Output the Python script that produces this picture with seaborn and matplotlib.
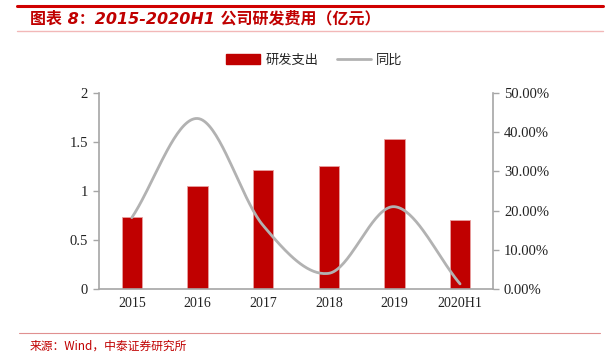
import numpy as np
import pandas as pd
import matplotlib
matplotlib.use("Agg")
import matplotlib.pyplot as plt
import seaborn as sns
from matplotlib.patches import Patch
from matplotlib.lines import Line2D
from matplotlib.ticker import FuncFormatter, FixedLocator

categories = ["2015", "2016", "2017", "2018", "2019", "2020H1"]
rd_spend = [0.73, 1.05, 1.21, 1.26, 1.53, 0.70]
yoy_pct = [18.2, 43.5, 16.2, 4.0, 21.0, 1.3]
left_ticks = [0, 0.5, 1, 1.5, 2]
left_tick_labels = ["0", "0.5", "1", "1.5", "2"]
right_ticks = [0, 10, 20, 30, 40, 50]

RED = "#C00000"
GRAY = "#B2B2B2"
SPINE = "#A6A6A6"

sns.set_style("white")
plt.rcParams["font.family"] = ["Liberation Serif", "Noto Sans CJK SC", "DejaVu Sans"]

fig = plt.figure(figsize=(6.1, 3.54), dpi=100)
ax = fig.add_axes([0.1623, 0.1836, 0.808 - 0.1623, 0.7373 - 0.1836])

df = pd.DataFrame({"cat": categories, "val": rd_spend})
sns.barplot(data=df, x="cat", y="val", color=RED, width=0.31, ax=ax,
            saturation=1, edgecolor="#E8A0A0", linewidth=0.6)
ax.set_xlim(-0.5, len(categories) - 0.5)
ax.set_ylim(0, 2)
ax.set_xlabel("")
ax.set_ylabel("")
ax.set_yticks(left_ticks)
ax.set_yticklabels(left_tick_labels)

# x ticks at category boundaries, labels centered
ax.set_xticks(np.arange(len(categories)))
ax.set_xticklabels(categories)
ax.xaxis.set_minor_locator(FixedLocator(np.arange(-0.5, len(categories), 1.0)))
ax.tick_params(axis="x", which="major", length=0, labelsize=10, colors="#222222", pad=6)
ax.tick_params(axis="x", which="minor", length=4, color=SPINE, width=1)
ax.tick_params(axis="y", length=4, color=SPINE, width=1, labelsize=10.5,
               labelcolor="#222222", left=True, pad=4)

for s in ["top", "right"]:
    ax.spines[s].set_visible(False)
for s in ["left", "bottom"]:
    ax.spines[s].set_color(SPINE)
    ax.spines[s].set_linewidth(1.2)

# secondary axis with smoothed line (Catmull-Rom through the data points)
ax2 = ax.twinx()
xs = np.arange(len(categories), dtype=float)
ys = np.array(yoy_pct, dtype=float)
px = np.concatenate([[2 * xs[0] - xs[1]], xs, [2 * xs[-1] - xs[-2]]])
py = np.concatenate([[2 * ys[0] - ys[1]], ys, [2 * ys[-1] - ys[-2]]])
sx, sy = [], []
t = np.linspace(0, 1, 40)
for i in range(1, len(px) - 2):
    p0, p1, p2, p3 = py[i - 1], py[i], py[i + 1], py[i + 2]
    x0, x1, x2, x3 = px[i - 1], px[i], px[i + 1], px[i + 2]
    fy = 0.5 * ((2 * p1) + (-p0 + p2) * t + (2 * p0 - 5 * p1 + 4 * p2 - p3) * t**2 + (-p0 + 3 * p1 - 3 * p2 + p3) * t**3)
    fx = 0.5 * ((2 * x1) + (-x0 + x2) * t + (2 * x0 - 5 * x1 + 4 * x2 - x3) * t**2 + (-x0 + 3 * x1 - 3 * x2 + x3) * t**3)
    sx.extend(fx)
    sy.extend(fy)
sns.lineplot(x=sx, y=sy, ax=ax2, color=GRAY, linewidth=2, sort=False, estimator=None)
ax2.set_ylim(0, 50)
ax2.set_yticks(right_ticks)
ax2.yaxis.set_major_formatter(FuncFormatter(lambda v, p: f"{v:.2f}%"))
ax2.tick_params(axis="y", length=4, color=SPINE, width=1, labelsize=10.5,
                labelcolor="#222222", right=True, pad=4)
for s in ["top", "left", "bottom"]:
    ax2.spines[s].set_visible(False)
ax2.spines["right"].set_color(SPINE)
ax2.spines["right"].set_linewidth(1.2)
ax2.set_xlim(-0.5, len(categories) - 0.5)

# legend
handles = [Patch(facecolor=RED, edgecolor=RED, label="研发支出"),
           Line2D([0], [0], color=GRAY, lw=2, label="同比")]
fig.legend(handles=handles, loc="center", bbox_to_anchor=(0.515, 0.83), ncol=2,
           frameon=False, prop={"family": ["Noto Sans CJK SC"], "size": 9.5},
           handlelength=2.6, handleheight=0.7, columnspacing=1.4, handletextpad=0.4)

# title and decorative lines
fig.add_artist(Line2D([17 / 610, 603 / 610], [1 - 6 / 354, 1 - 6 / 354], color="#D00000", lw=2.2))
fig.add_artist(Line2D([17 / 610, 603 / 610], [1 - 31 / 354, 1 - 31 / 354], color="#F2B8B8", lw=1))
fig.text(30 / 610, 1 - 19 / 354, "图表 8：2015-2020H1 公司研发费用（亿元）", color="#C00000",
         fontsize=11.5, fontweight="bold", style="italic", va="center", ha="left",
         family=["DejaVu Sans", "Noto Sans CJK SC"])
fig.add_artist(Line2D([19 / 610, 600 / 610], [1 - 333 / 354, 1 - 333 / 354], color="#E09090", lw=0.8))
fig.text(30 / 610, 1 - 346 / 354, "来源：Wind，中泰证券研究所", color="#C00000",
         fontsize=8.5, va="center", ha="left", family=["Noto Sans CJK SC", "DejaVu Sans"])

fig.savefig("out.png", dpi=100)
